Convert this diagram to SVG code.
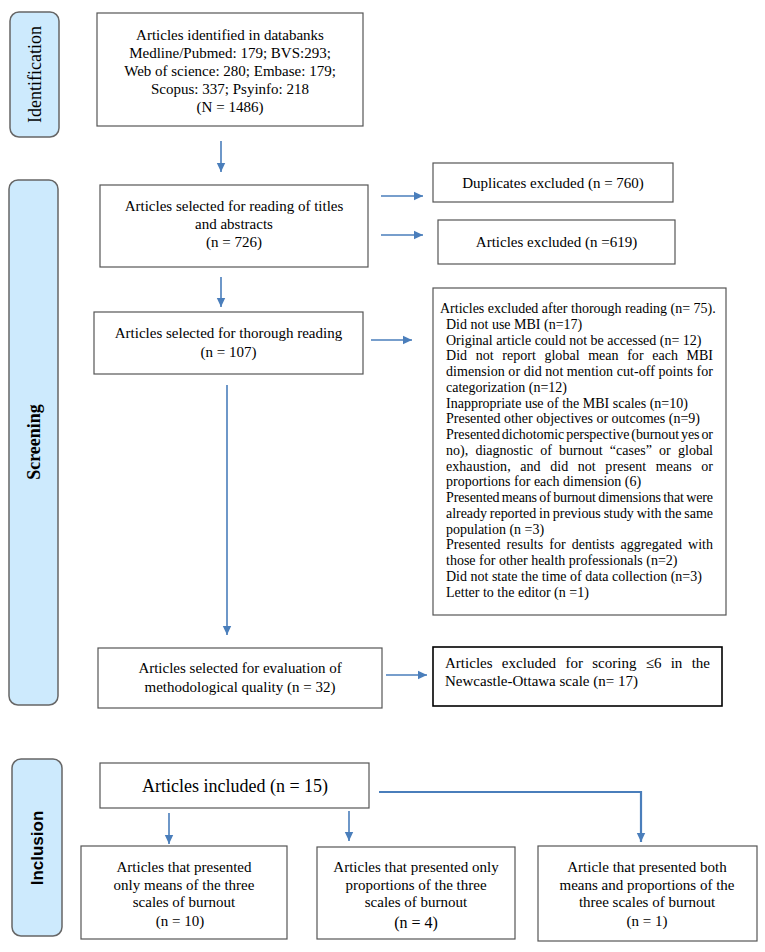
<svg xmlns="http://www.w3.org/2000/svg" width="765" height="952" viewBox="0 0 765 952">
<style>
.bg{fill:#ffffff}
.box{fill:#ffffff;stroke:#555555;stroke-width:1.2}
.boxb{fill:#ffffff;stroke:#000000;stroke-width:1.6}
.lab{fill:#cdeafd;stroke:#666666;stroke-width:1.5}
.t{font-family:"Liberation Serif","Times New Roman",serif;font-size:15px;fill:#000}
.c{text-anchor:middle}
.s{font-size:14px}
.lt{font-family:"Liberation Serif","Times New Roman",serif;font-size:18px;fill:#000;text-anchor:middle}
.ltb{font-weight:bold}
.ls{font-family:"Liberation Sans",Arial,sans-serif;font-size:17px;font-weight:bold;fill:#000;text-anchor:middle}
.con{stroke:#4a7ebb;stroke-width:1.6;fill:none}
</style>
<defs>
<marker id="ah" markerWidth="10" markerHeight="10" refX="9" refY="5" orient="auto" markerUnits="userSpaceOnUse">
<path d="M0,0.8 L9,5 L0,9.2 z" fill="#4a7ebb"/>
</marker>
</defs>
<rect class="bg" x="0" y="0" width="765" height="952"/>

<g id="label-identification">
<rect class="lab" x="10" y="12" width="49" height="125" rx="9"/>
<text class="lt" transform="translate(41,74.5) rotate(-90)">Identification</text>
</g>
<g id="label-screening">
<rect class="lab" x="9" y="180" width="49" height="525" rx="9"/>
<text class="lt ltb" transform="translate(40,442) rotate(-90)">Screening</text>
</g>
<g id="label-inclusion">
<rect class="lab" x="12" y="759" width="50" height="177" rx="9"/>
<text class="ls" transform="translate(43,848) rotate(-90)">Inclusion</text>
</g>

<g id="n-identified">
<rect class="box" x="97" y="13" width="266" height="113"/>
<text class="t c" x="230" y="40">Articles identified in databanks</text>
<text class="t c" x="230" y="58">Medline/Pubmed: 179; BVS:293;</text>
<text class="t c" x="230" y="76">Web of science: 280; Embase: 179;</text>
<text class="t c" x="230" y="94">Scopus: 337; Psyinfo: 218</text>
<text class="t c" x="230" y="112">(N = 1486)</text>
</g>

<g id="n-titles">
<rect class="box" x="100" y="185" width="268" height="82"/>
<text class="t c" x="234" y="211">Articles selected for reading of titles</text>
<text class="t c" x="234" y="229">and abstracts</text>
<text class="t c" x="234" y="247">(n = 726)</text>
</g>

<g id="n-duplicates">
<rect class="box" x="433" y="163" width="240" height="39"/>
<text class="t c" x="553" y="188">Duplicates excluded (n = 760)</text>
</g>

<g id="n-excluded1">
<rect class="box" x="438" y="220" width="237" height="44"/>
<text class="t c" x="556.5" y="247">Articles excluded (n =619)</text>
</g>

<g id="n-thorough">
<rect class="box" x="94" y="312" width="269" height="62"/>
<text class="t c" x="228.5" y="338">Articles selected for thorough reading</text>
<text class="t c" x="228.5" y="357">(n = 107)</text>
</g>

<g id="n-excluded2">
<rect class="box" x="433" y="288" width="293" height="327"/>
<text class="t s" x="440" y="313">Articles excluded after thorough reading (n= 75).</text>
<text class="t s" x="446" y="329">Did not use MBI (n=17)</text>
<text class="t s" x="446" y="345">Original article could not be accessed (n= 12)</text>
<text class="t s" x="446" y="360" word-spacing="5" textLength="267" lengthAdjust="spacing">Did not report global mean for each MBI</text>
<text class="t s" x="446" y="376" textLength="267" lengthAdjust="spacing">dimension or did not mention cut-off points for</text>
<text class="t s" x="446" y="392">categorization (n=12)</text>
<text class="t s" x="446" y="408">Inappropriate use of the MBI scales (n=10)</text>
<text class="t s" x="446" y="423">Presented other objectives or outcomes (n=9)</text>
<text class="t s" x="446" y="439" word-spacing="-1.5" textLength="267" lengthAdjust="spacing">Presented dichotomic perspective (burnout yes or</text>
<text class="t s" x="446" y="455" word-spacing="3.7" textLength="267" lengthAdjust="spacing">no), diagnostic of burnout “cases” or global</text>
<text class="t s" x="446" y="471" word-spacing="6" textLength="267" lengthAdjust="spacing">exhaustion, and did not present means or</text>
<text class="t s" x="446" y="486">proportions for each dimension (6)</text>
<text class="t s" x="446" y="502" word-spacing="-1" textLength="267" lengthAdjust="spacing">Presented means of burnout dimensions that were</text>
<text class="t s" x="446" y="518" word-spacing="-0.5" textLength="267" lengthAdjust="spacing">already reported in previous study with the same</text>
<text class="t s" x="446" y="534">population (n =3)</text>
<text class="t s" x="446" y="549" word-spacing="2.6" textLength="267" lengthAdjust="spacing">Presented results for dentists aggregated with</text>
<text class="t s" x="446" y="565">those for other health professionals (n=2)</text>
<text class="t s" x="446" y="581">Did not state the time of data collection (n=3)</text>
<text class="t s" x="446" y="597">Letter to the editor (n =1)</text>
</g>

<g id="n-quality">
<rect class="box" x="98" y="648" width="284" height="60"/>
<text class="t c" x="240" y="673">Articles selected for evaluation of</text>
<text class="t c" x="240" y="692">methodological quality (n = 32)</text>
</g>

<g id="n-excluded3">
<rect class="boxb" x="433" y="647" width="289" height="59"/>
<text class="t" x="445" y="668" word-spacing="5.5" textLength="265" lengthAdjust="spacing">Articles excluded for scoring ≤6 in the</text>
<text class="t" x="445" y="686">Newcastle-Ottawa scale (n= 17)</text>
</g>

<g id="n-included">
<rect class="box" x="100" y="763" width="269" height="45"/>
<text class="t c" x="235" y="792" style="font-size:18px">Articles included (n = 15)</text>
</g>

<g id="n-means">
<rect class="box" x="81" y="846" width="206" height="93"/>
<text class="t c" x="184" y="872">Articles that presented</text>
<text class="t c" x="184" y="890">only means of the three</text>
<text class="t c" x="184" y="907">scales of burnout</text>
<text class="t c" x="180" y="926">(n = 10)</text>
</g>

<g id="n-proportions">
<rect class="box" x="317" y="847" width="198" height="92"/>
<text class="t c" x="416" y="872">Articles that presented only</text>
<text class="t c" x="416" y="890">proportions of the three</text>
<text class="t c" x="416" y="907">scales of burnout</text>
<text class="t c" x="416" y="928" style="font-size:16px">(n = 4)</text>
</g>

<g id="n-both">
<rect class="box" x="538" y="846" width="219" height="95"/>
<text class="t c" x="647" y="872">Article that presented both</text>
<text class="t c" x="647" y="890">means and proportions of the</text>
<text class="t c" x="647" y="907">three scales of burnout</text>
<text class="t c" x="647" y="926">(n = 1)</text>
</g>

<g id="connectors">
<line class="con" x1="221" y1="141" x2="221" y2="172" marker-end="url(#ah)"/>
<line class="con" x1="381" y1="196" x2="423" y2="196" marker-end="url(#ah)"/>
<line class="con" x1="381" y1="235" x2="423" y2="235" marker-end="url(#ah)"/>
<line class="con" x1="221" y1="277" x2="221" y2="307" marker-end="url(#ah)"/>
<line class="con" x1="371" y1="340" x2="412" y2="340" marker-end="url(#ah)"/>
<line class="con" x1="227" y1="385" x2="227" y2="635" marker-end="url(#ah)"/>
<line class="con" x1="386" y1="675" x2="427" y2="675" marker-end="url(#ah)"/>
<polyline class="con" style="stroke-width:2.2" points="379,792 641,792 641,842" marker-end="url(#ah)"/>
<line class="con" x1="169" y1="813" x2="169" y2="844" marker-end="url(#ah)"/>
<line class="con" x1="349" y1="811" x2="349" y2="841" marker-end="url(#ah)"/>
</g>
</svg>
